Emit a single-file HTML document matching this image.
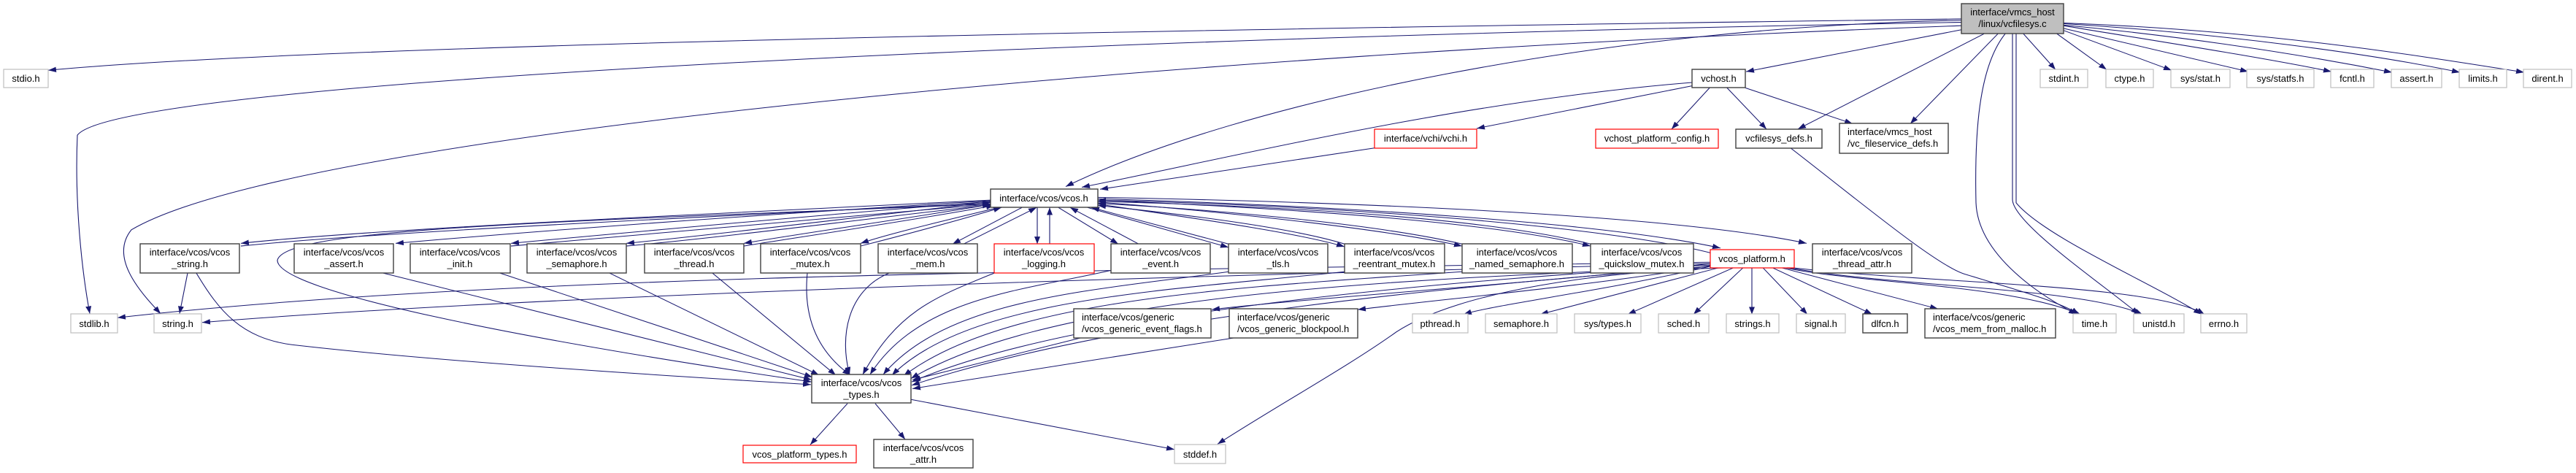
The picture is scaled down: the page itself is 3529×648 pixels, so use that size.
<!DOCTYPE html>
<html><head><meta charset="utf-8"><style>
html,body{margin:0;padding:0;background:#fff;width:3529px;height:648px;overflow:hidden}
svg text{font-family:"Liberation Sans",Arial,sans-serif;font-size:13px;fill:#000}
.g{fill:#fff;stroke:#bfbfbf;stroke-width:1.2}
.b{fill:#fff;stroke:#404040;stroke-width:1.4}
.r{fill:#fff;stroke:#ff0000;stroke-width:1.2}
.e{fill:none;stroke:#191970;stroke-width:1.1;marker-end:url(#a)}
</style></head><body>
<svg width="3529" height="648" viewBox="0 0 3529 648" xmlns="http://www.w3.org/2000/svg">
<defs><marker id="a" markerWidth="11" markerHeight="8" refX="11" refY="4" orient="auto" markerUnits="userSpaceOnUse"><path d="M0,0 L11,4 L0,8z" fill="#191970"/></marker></defs>
<g transform="scale(1,0.926)">
<path class="e" d="M2687,28 C2000,38 500,60 66,104"/>
<path class="e" d="M2687,33 C1500,55 160,120 106,200 C102,300 112,400 123,464"/>
<path class="e" d="M2687,38 C1600,80 400,200 180,340 C150,380 190,430 220,464"/>
<path class="e" d="M2687,30 C2200,40 1700,150 1460,276"/>
<path class="e" d="M2687,44 L2392,106"/>
<path class="e" d="M2718,50 L2463,191"/>
<path class="e" d="M2737,50 L2617,183"/>
<path class="e" d="M2772,50 L2816,103"/>
<path class="e" d="M2818,50 L2886,103"/>
<path class="e" d="M2827,45 L2975,104"/>
<path class="e" d="M2827,42 L3080,106"/>
<path class="e" d="M2827,38 C2950,60 3100,85 3194,106"/>
<path class="e" d="M2827,37 C3000,55 3150,80 3277,107"/>
<path class="e" d="M2827,35 C3050,50 3250,80 3370,107"/>
<path class="e" d="M2827,34 C3100,45 3300,80 3458,107"/>
<path class="e" d="M2747,50 C2710,100 2705,200 2707,300 C2710,380 2800,440 2845,465"/>
<path class="e" d="M2757,50 L2757,295 C2757,330 2880,420 2930,465"/>
<path class="e" d="M2762,50 L2762,300 C2800,350 2950,420 3016,465"/>
<path class="e" d="M2318,122 C2000,150 1700,230 1482,277"/>
<path class="e" d="M2318,127 L2023,190"/>
<path class="e" d="M2342,130 L2290,191"/>
<path class="e" d="M2366,130 L2420,191"/>
<path class="e" d="M2391,130 L2538,183"/>
<path class="e" d="M1883,219 L1507,280"/>
<path class="e" d="M2453,219 C2550,300 2650,390 2690,405 C2750,425 2820,445 2848,465"/>
<path class="e" d="M1357,296 C900,320 500,340 330,360"/>
<path class="e" d="M330,364 C500,345 900,324 1357,300"/>
<path class="e" d="M1357,297 C1000,320 700,345 542,360"/>
<path class="e" d="M1357,298 C1100,320 850,345 700,360"/>
<path class="e" d="M700,364 C850,348 1100,325 1357,302"/>
<path class="e" d="M1357,299 C1200,318 1000,345 858,360"/>
<path class="e" d="M858,364 C1000,350 1200,322 1357,303"/>
<path class="e" d="M1360,302 C1250,322 1100,345 1019,360"/>
<path class="e" d="M1019,364 C1100,350 1250,326 1362,304"/>
<path class="e" d="M1368,307 C1300,325 1220,345 1179,360"/>
<path class="e" d="M1179,364 C1230,350 1310,327 1372,307"/>
<path class="e" d="M1400,307 L1305,361"/>
<path class="e" d="M1320,361 L1420,307"/>
<path class="e" d="M1421,307 L1421,361"/>
<path class="e" d="M1438,361 L1438,307"/>
<path class="e" d="M1450,307 L1532,361"/>
<path class="e" d="M1560,361 L1466,307"/>
<path class="e" d="M1490,307 L1683,366"/>
<path class="e" d="M1683,361 L1495,307"/>
<path class="e" d="M1504,302 C1650,325 1780,345 1842,365"/>
<path class="e" d="M1842,361 C1780,340 1650,320 1504,304"/>
<path class="e" d="M1504,299 C1700,315 1900,340 2003,364"/>
<path class="e" d="M2003,361 C1900,335 1700,312 1504,301"/>
<path class="e" d="M1504,296 C1800,310 2050,330 2179,364"/>
<path class="e" d="M2179,361 C2050,326 1800,306 1504,298"/>
<path class="e" d="M1504,294 C1850,305 2200,330 2357,367"/>
<path class="e" d="M2343,374 C2200,335 1850,305 1504,296"/>
<path class="e" d="M1504,292 C1900,300 2300,320 2475,360"/>
<path class="e" d="M1357,302 C700,330 390,340 380,385 C380,430 700,500 1112,565"/>
<path class="e" d="M269,404 C300,460 330,500 400,510 C600,535 900,555 1111,569"/>
<path class="e" d="M257,404 L246,464"/>
<path class="e" d="M525,404 L1112,562"/>
<path class="e" d="M685,404 L1113,558"/>
<path class="e" d="M835,404 L1122,555"/>
<path class="e" d="M976,404 L1145,555"/>
<path class="e" d="M1106,404 C1100,470 1120,520 1165,555"/>
<path class="e" d="M1218,404 C1160,430 1150,500 1164,554"/>
<path class="e" d="M1362,404 C1280,440 1230,460 1182,554"/>
<path class="e" d="M1522,400 C1400,430 1260,440 1192,554"/>
<path class="e" d="M1683,402 C1500,430 1300,440 1210,554"/>
<path class="e" d="M1842,402 C1600,430 1330,440 1222,555"/>
<path class="e" d="M2003,402 C1700,425 1380,440 1238,556"/>
<path class="e" d="M2179,402 C1800,420 1420,450 1248,560"/>
<path class="e" d="M2343,392 C1900,420 1450,470 1249,565"/>
<path class="e" d="M2343,394 C1900,430 1500,480 1249,570"/>
<path class="e" d="M1480,500 L1250,562"/>
<path class="e" d="M1690,500 L1250,575"/>
<path class="e" d="M1161,597 L1110,658"/>
<path class="e" d="M1199,597 L1240,650"/>
<path class="e" d="M1248,591 L1609,665"/>
<path class="e" d="M2343,388 C1500,400 700,405 161,470"/>
<path class="e" d="M2343,390 C1500,410 700,440 277,477"/>
<path class="e" d="M2343,390 C2100,420 1800,440 1660,458"/>
<path class="e" d="M2343,393 C2200,420 2000,440 1860,458"/>
<path class="e" d="M2343,394 C2200,430 2050,450 2005,465"/>
<path class="e" d="M2355,396 L2110,465"/>
<path class="e" d="M2375,396 L2230,465"/>
<path class="e" d="M2388,396 L2320,465"/>
<path class="e" d="M2400,396 L2400,465"/>
<path class="e" d="M2415,396 L2476,465"/>
<path class="e" d="M2428,396 L2565,465"/>
<path class="e" d="M2440,396 L2655,457"/>
<path class="e" d="M2445,396 C2550,420 2750,420 2850,465"/>
<path class="e" d="M2450,396 C2600,425 2850,425 2935,465"/>
<path class="e" d="M2455,396 C2650,420 2950,420 3020,465"/>
<path class="e" d="M2370,396 C2200,400 2000,430 1913,491 C1850,540 1750,600 1668,657"/>
</g>
<g>
<rect class="b" x="2687" y="5" width="140" height="41" style="fill:#bfbfbf"/><text x="2757" y="21" text-anchor="middle">interface/vmcs_host</text><text x="2757" y="37" text-anchor="middle">/linux/vcfilesys.c</text>
<rect class="g" x="5" y="95" width="61" height="25"/><text x="35.5" y="112" text-anchor="middle">stdio.h</text>
<rect class="g" x="97" y="430" width="64" height="26"/><text x="129" y="448" text-anchor="middle">stdlib.h</text>
<rect class="g" x="211" y="430" width="65" height="26"/><text x="243.5" y="448" text-anchor="middle">string.h</text>
<rect class="b" x="192" y="334" width="136" height="40"/><text x="260" y="350" text-anchor="middle">interface/vcos/vcos</text><text x="260" y="366" text-anchor="middle">_string.h</text>
<rect class="b" x="403" y="334" width="136" height="40"/><text x="471" y="350" text-anchor="middle">interface/vcos/vcos</text><text x="471" y="366" text-anchor="middle">_assert.h</text>
<rect class="b" x="562" y="334" width="137" height="40"/><text x="630" y="350" text-anchor="middle">interface/vcos/vcos</text><text x="630" y="366" text-anchor="middle">_init.h</text>
<rect class="b" x="722" y="334" width="136" height="40"/><text x="790" y="350" text-anchor="middle">interface/vcos/vcos</text><text x="790" y="366" text-anchor="middle">_semaphore.h</text>
<rect class="b" x="883" y="334" width="136" height="40"/><text x="951" y="350" text-anchor="middle">interface/vcos/vcos</text><text x="951" y="366" text-anchor="middle">_thread.h</text>
<rect class="b" x="1042" y="334" width="137" height="40"/><text x="1110" y="350" text-anchor="middle">interface/vcos/vcos</text><text x="1110" y="366" text-anchor="middle">_mutex.h</text>
<rect class="b" x="1203" y="334" width="136" height="40"/><text x="1271" y="350" text-anchor="middle">interface/vcos/vcos</text><text x="1271" y="366" text-anchor="middle">_mem.h</text>
<rect class="r" x="1362" y="334" width="137" height="40"/><text x="1430" y="350" text-anchor="middle">interface/vcos/vcos</text><text x="1430" y="366" text-anchor="middle">_logging.h</text>
<rect class="b" x="1522" y="334" width="136" height="40"/><text x="1590" y="350" text-anchor="middle">interface/vcos/vcos</text><text x="1590" y="366" text-anchor="middle">_event.h</text>
<rect class="b" x="1683" y="334" width="136" height="40"/><text x="1751" y="350" text-anchor="middle">interface/vcos/vcos</text><text x="1751" y="366" text-anchor="middle">_tls.h</text>
<rect class="b" x="1842" y="334" width="137" height="40"/><text x="1910" y="350" text-anchor="middle">interface/vcos/vcos</text><text x="1910" y="366" text-anchor="middle">_reentrant_mutex.h</text>
<rect class="b" x="2003" y="334" width="151" height="40"/><text x="2078" y="350" text-anchor="middle">interface/vcos/vcos</text><text x="2078" y="366" text-anchor="middle">_named_semaphore.h</text>
<rect class="b" x="2179" y="334" width="141" height="40"/><text x="2249" y="350" text-anchor="middle">interface/vcos/vcos</text><text x="2249" y="366" text-anchor="middle">_quickslow_mutex.h</text>
<rect class="r" x="2343" y="342" width="115" height="25"/><text x="2400" y="359" text-anchor="middle">vcos_platform.h</text>
<rect class="b" x="2483" y="334" width="136" height="40"/><text x="2551" y="350" text-anchor="middle">interface/vcos/vcos</text><text x="2551" y="366" text-anchor="middle">_thread_attr.h</text>
<rect class="b" x="1357" y="259" width="147" height="25"/><text x="1430" y="276" text-anchor="middle">interface/vcos/vcos.h</text>
<rect class="r" x="1883" y="177" width="140" height="26"/><text x="1953" y="194" text-anchor="middle">interface/vchi/vchi.h</text>
<rect class="b" x="2318" y="95" width="73" height="25"/><text x="2354.5" y="112" text-anchor="middle">vchost.h</text>
<rect class="r" x="2186" y="177" width="168" height="26"/><text x="2270" y="194" text-anchor="middle">vchost_platform_config.h</text>
<rect class="b" x="2378" y="177" width="118" height="26"/><text x="2437" y="194" text-anchor="middle">vcfilesys_defs.h</text>
<rect class="b" x="2520" y="169" width="149" height="41"/><text x="2531" y="185">interface/vmcs_host</text><text x="2531" y="201">/vc_fileservice_defs.h</text>
<rect class="b" x="1471" y="423" width="188" height="40"/><text x="1482" y="439">interface/vcos/generic</text><text x="1482" y="455">/vcos_generic_event_flags.h</text>
<rect class="b" x="1684" y="423" width="176" height="40"/><text x="1695" y="439">interface/vcos/generic</text><text x="1695" y="455">/vcos_generic_blockpool.h</text>
<rect class="g" x="1935" y="430" width="76" height="26"/><text x="1973" y="448" text-anchor="middle">pthread.h</text>
<rect class="g" x="2035" y="430" width="98" height="26"/><text x="2084" y="448" text-anchor="middle">semaphore.h</text>
<rect class="g" x="2157" y="430" width="91" height="26"/><text x="2202.5" y="448" text-anchor="middle">sys/types.h</text>
<rect class="g" x="2272" y="430" width="69" height="26"/><text x="2306.5" y="448" text-anchor="middle">sched.h</text>
<rect class="g" x="2365" y="430" width="72" height="26"/><text x="2401" y="448" text-anchor="middle">strings.h</text>
<rect class="g" x="2461" y="430" width="67" height="26"/><text x="2494.5" y="448" text-anchor="middle">signal.h</text>
<rect class="b" x="2552" y="430" width="61" height="26"/><text x="2582.5" y="448" text-anchor="middle">dlfcn.h</text>
<rect class="b" x="2637" y="423" width="179" height="40"/><text x="2648" y="439">interface/vcos/generic</text><text x="2648" y="455">/vcos_mem_from_malloc.h</text>
<rect class="g" x="2840" y="430" width="59" height="26"/><text x="2869.5" y="448" text-anchor="middle">time.h</text>
<rect class="g" x="2923" y="430" width="69" height="26"/><text x="2957.5" y="448" text-anchor="middle">unistd.h</text>
<rect class="g" x="3015" y="430" width="63" height="26"/><text x="3046.5" y="448" text-anchor="middle">errno.h</text>
<rect class="g" x="1609" y="609" width="70" height="26"/><text x="1644" y="627" text-anchor="middle">stddef.h</text>
<rect class="b" x="1112" y="513" width="136" height="39"/><text x="1180" y="529" text-anchor="middle">interface/vcos/vcos</text><text x="1180" y="545" text-anchor="middle">_types.h</text>
<rect class="r" x="1018" y="610" width="155" height="24"/><text x="1095.5" y="627" text-anchor="middle">vcos_platform_types.h</text>
<rect class="b" x="1197" y="602" width="136" height="39"/><text x="1265" y="618" text-anchor="middle">interface/vcos/vcos</text><text x="1265" y="634" text-anchor="middle">_attr.h</text>
<rect class="g" x="2795" y="95" width="65" height="25"/><text x="2827.5" y="112" text-anchor="middle">stdint.h</text>
<rect class="g" x="2885" y="95" width="65" height="25"/><text x="2917.5" y="112" text-anchor="middle">ctype.h</text>
<rect class="g" x="2974" y="95" width="81" height="25"/><text x="3014.5" y="112" text-anchor="middle">sys/stat.h</text>
<rect class="g" x="3078" y="95" width="92" height="25"/><text x="3124" y="112" text-anchor="middle">sys/statfs.h</text>
<rect class="g" x="3193" y="95" width="59" height="25"/><text x="3222.5" y="112" text-anchor="middle">fcntl.h</text>
<rect class="g" x="3276" y="95" width="69" height="25"/><text x="3310.5" y="112" text-anchor="middle">assert.h</text>
<rect class="g" x="3369" y="95" width="65" height="25"/><text x="3401.5" y="112" text-anchor="middle">limits.h</text>
<rect class="g" x="3457" y="95" width="66" height="25"/><text x="3490" y="112" text-anchor="middle">dirent.h</text>
</g>
</svg>
</body></html>
